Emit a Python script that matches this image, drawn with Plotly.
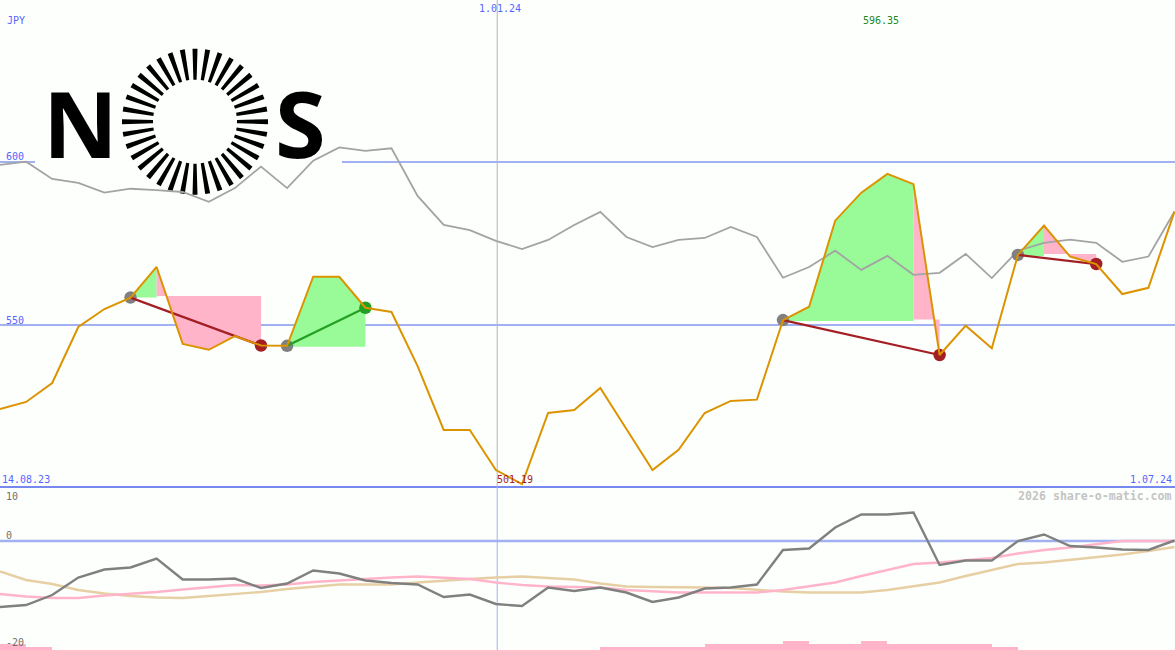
import math
import plotly.graph_objects as go

W, H = 1175, 650
PANEL_Y = 487

price = [524.2, 526.4, 532.2, 549.4, 554.9, 558.4, 567.8, 544.2, 542.4, 546.6, 543.7, 543.6,
         564.8, 564.8, 555.3, 554.0, 537.4, 517.8, 517.8, 505.5, 501.19, 523.0, 523.9, 530.7,
         518.1, 505.5, 511.7, 523.0, 526.7, 527.1, 551.5, 555.6, 582.0, 590.6, 596.35, 593.2,
         540.8, 549.8, 542.9, 571.5, 580.5, 571.0, 568.7, 559.5, 561.4, 584.8]
benchmark = [599.1, 600.1, 594.8, 593.6, 590.6, 591.8, 591.4, 590.8, 587.8, 592.0, 598.6, 592.0,
             600.4, 604.5, 603.4, 604.2, 589.6, 580.7, 579.1, 575.8, 573.3, 576.1, 580.7, 584.7,
             577.0, 573.9, 576.1, 576.7, 580.1, 577.0, 564.5, 567.8, 572.8, 566.9, 571.2, 565.4,
             566.0, 571.8, 564.4, 572.8, 575.2, 576.2, 575.2, 569.4, 571.0, 584.8]
momentum = [-13.2, -12.8, -10.8, -7.3, -5.7, -5.3, -3.5, -7.7, -7.7, -7.5, -9.4, -8.5, -5.9,
            -6.5, -7.9, -8.4, -8.7, -11.2, -10.7, -12.6, -13.0, -9.3, -10.0, -9.3, -10.3, -12.2,
            -11.3, -9.5, -9.3, -8.7, -1.8, -1.5, 2.7, 5.3, 5.3, 5.7, -4.8, -3.9, -3.9, 0.0, 1.3,
            -1.0, -1.3, -1.7, -1.8, 0.1]
signal_fast = [-10.6, -11.1, -11.4, -11.4, -10.9, -10.6, -10.2, -9.7, -9.2, -8.8, -8.9, -8.7,
               -8.2, -7.9, -7.5, -7.3, -7.1, -7.4, -7.6, -8.3, -8.8, -9.1, -9.2, -9.3, -9.8,
               -10.0, -10.3, -10.3, -10.3, -10.3, -9.8, -9.1, -8.3, -7.0, -5.8, -4.6, -4.3,
               -3.8, -3.4, -2.5, -1.8, -1.3, -0.6, 0.0, 0.0, 0.0]
signal_slow = [-6.1, -7.8, -8.6, -9.8, -10.5, -11.0, -11.3, -11.4, -11.0, -10.6, -10.2, -9.6,
               -9.1, -8.7, -8.7, -8.7, -8.3, -7.9, -7.6, -7.3, -7.1, -7.4, -7.7, -8.5, -9.1,
               -9.2, -9.2, -9.3, -9.4, -9.8, -10.1, -10.3, -10.3, -10.3, -9.8, -9.1, -8.3, -7.0,
               -5.8, -4.6, -4.3, -3.8, -3.3, -2.7, -2.0, -1.2]
volume = [2, 1] + [0] * 21 + [1, 1, 1, 1, 2, 2, 2, 3, 2, 2, 3, 2, 2, 2, 2, 1] + [0] * 7

# start index, end index, base price, kind
fills = [(5, 6, 558.4, "up"), (6, 10, 558.9, "down"), (11, 14, 543.3, "up"),
         (30, 35, 551.2, "up"), (35, 36, 551.7, "down"), (39, 40, 571.2, "up"), (40, 42, 571.8, "down")]
# entry index, exit index, kind
trades = [(5, 10, "down"), (11, 14, "up"), (30, 36, "down"), (39, 42, "down")]

GREEN_FILL, PINK_FILL = "#98fb98", "#ffb4ca"
TRADE = {"up": "#22a022", "down": "#a31f24"}
FILL = {"up": GREEN_FILL, "down": PINK_FILL}
BG = "#fdfffd"
GRID = "#a2b1f2"
BLUE = "#5566ff"
MONO = "DejaVu Sans Mono"

idx = list(range(len(price)))
fig = go.Figure()

for a, b, base, kind in fills:
    xs = idx[a:b + 1] + [b, a, a]
    ys = price[a:b + 1] + [base, base, price[a]]
    fig.add_trace(go.Scatter(x=xs, y=ys, mode="lines", fill="toself", fillcolor=FILL[kind],
                             line=dict(width=0, color=FILL[kind]), yaxis="y"))

fig.add_trace(go.Scatter(x=idx, y=benchmark, mode="lines", line=dict(color="#a3a3a3", width=1.8), yaxis="y"))

for a, b, kind in trades:
    fig.add_trace(go.Scatter(x=[a, b], y=[price[a], price[b]], mode="markers",
                             marker=dict(size=12.5, color=["#808080", TRADE[kind]]), yaxis="y"))
for a, b, kind in trades:
    fig.add_trace(go.Scatter(x=[a, b], y=[price[a], price[b]], mode="lines",
                             line=dict(color=TRADE[kind], width=2.2), yaxis="y"))

fig.add_trace(go.Scatter(x=idx, y=price, mode="lines", line=dict(color="#dc9300", width=2), yaxis="y"))

fig.add_trace(go.Bar(x=[i + 0.5 for i in idx], y=volume, width=1, marker=dict(color=PINK_FILL, line=dict(width=0)), yaxis="y3"))
fig.add_trace(go.Scatter(x=idx, y=signal_slow, mode="lines", line=dict(color="#e6cfa3", width=2.4), yaxis="y2"))
fig.add_trace(go.Scatter(x=idx, y=signal_fast, mode="lines", line=dict(color="#ffb4ca", width=2.4), yaxis="y2"))
fig.add_trace(go.Scatter(x=idx, y=momentum, mode="lines", line=dict(color="#808080", width=2.4), yaxis="y2"))


def px(x):
    return x / W


def py(y):
    return 1 - y / H


shapes = [
    dict(type="line", xref="paper", x0=0, x1=1, yref="y", y0=600, y1=600, line=dict(color=GRID, width=2), layer="below"),
    dict(type="line", xref="paper", x0=0, x1=1, yref="y", y0=550, y1=550, line=dict(color=GRID, width=2), layer="below"),
    dict(type="line", xref="paper", x0=0, x1=1, yref="y2", y0=0, y1=0, line=dict(color=GRID, width=2.4), layer="below"),
    dict(type="line", xref="paper", x0=0, x1=1, yref="paper", y0=py(PANEL_Y), y1=py(PANEL_Y), line=dict(color="#7788ee", width=2), layer="below"),
    dict(type="line", xref="x", x0=19.05, x1=19.05, yref="paper", y0=py(PANEL_Y), y1=1, line=dict(color="#b4b4b4", width=1), layer="below"),
    dict(type="line", xref="x", x0=19.05, x1=19.05, yref="paper", y0=0, y1=py(PANEL_Y), line=dict(color=GRID, width=1), layer="below"),
    dict(type="rect", xref="paper", yref="paper", x0=px(35), x1=px(342), y0=py(170), y1=py(40),
         fillcolor=BG, line=dict(width=0), layer="below"),
]

# logo ring
CX, CY, R1, R2, N_SPOKES = 195, 121.7, 42, 73, 36
for k in range(N_SPOKES):
    t = 2 * math.pi * k / N_SPOKES
    ux, uy = math.sin(t), -math.cos(t)
    vx, vy = -uy, ux
    pts = [(CX + ux * R1 + vx * 1.6, CY + uy * R1 + vy * 1.6),
           (CX + ux * R2 + vx * 2.5, CY + uy * R2 + vy * 2.5),
           (CX + ux * R2 - vx * 2.5, CY + uy * R2 - vy * 2.5),
           (CX + ux * R1 - vx * 1.6, CY + uy * R1 - vy * 1.6)]
    path = "M" + " L".join(f"{px(a):.5f},{py(b):.5f}" for a, b in pts) + " Z"
    shapes.append(dict(type="path", xref="paper", yref="paper", path=path, fillcolor="#000000",
                       line=dict(width=0), layer="below"))


def label(text, x, y, color, anchor="left", size=10, family=MONO):
    return dict(text=text, xref="paper", yref="paper", x=px(x), y=py(y), xanchor=anchor, yanchor="middle",
                showarrow=False, borderpad=0, font=dict(family=family, size=size, color=color))


annotations = [
    label("JPY", 6, 21, BLUE),
    label("600", 5, 156, BLUE),
    label("550", 5, 320, BLUE),
    label("14.08.23", 1, 479, BLUE),
    label("1.07.24", 1173, 479, BLUE, "right"),
    label("1.01.24", 500, 8, BLUE, "center"),
    label("596.35", 881, 21, "#228822", "center"),
    label("501.19", 515, 479, "#a31f24", "center"),
    label("10", 5, 496, "#707070"),
    label("0", 5, 535, "#707070"),
    label("-20", 5, 642, "#707070"),
    label("<b>2026 share-o-matic.com</b>", 1173, 496, "#c4c4c4", "right", 11.6),
    label("<b>N</b>", 80, 122, "#000000", "center", 92, "Open Sans"),
    label("<b>S</b>", 300, 122, "#000000", "center", 92, "Open Sans"),
]

split = 1 - PANEL_Y / H
fig.update_layout(
    width=W, height=H, margin=dict(l=0, r=0, t=0, b=0), showlegend=False, hovermode=False,
    paper_bgcolor=BG, plot_bgcolor=BG, bargap=0, shapes=shapes, annotations=annotations,
    xaxis=dict(visible=False, range=[0, W / 26.1], fixedrange=True),
    yaxis=dict(visible=False, domain=[split, 1], range=[600 - (PANEL_Y - 162) / 3.26, 600 + 162 / 3.26], fixedrange=True),
    yaxis2=dict(visible=False, domain=[0, split], range=[-21.8, 10.8], fixedrange=True),
    yaxis3=dict(visible=False, domain=[0, split], overlaying="y2", range=[0, 54.33], fixedrange=True),
)
fig.write_html("out.html", config=dict(displayModeBar=False),
               post_script="document.body.style.margin='0';document.body.style.background='#fdfffd';document.body.style.overflow='hidden';")
